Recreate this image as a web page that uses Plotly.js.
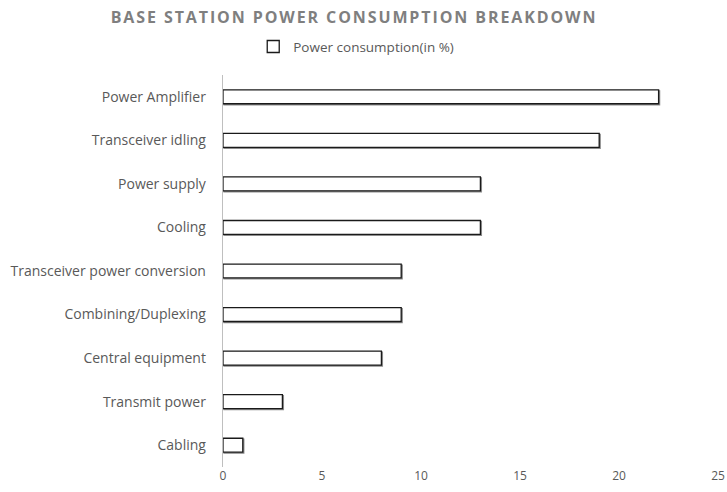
<!DOCTYPE html>
<html>
<head>
<meta charset="utf-8">
<script src="https://cdn.plot.ly/plotly-3.0.1.min.js"></script>
<style>
html,body{margin:0;padding:0;background:#fff;}
#chart{width:727px;height:492px;}
.gtitle{letter-spacing:1.9px;}
.bars path{filter:drop-shadow(1px 1px 0 #8c8c8c);}
</style>
</head>
<body>
<div id="chart"></div>
<script>
const categories = ["Power Amplifier","Transceiver idling","Power supply","Cooling","Transceiver power conversion","Combining/Duplexing","Central equipment","Transmit power","Cabling"];
const values = [22,19,13,13,9,9,8,3,1];
const seriesName = "Power consumption(in %)";
const xTicks = [0,5,10,15,20,25];

const trace = {
  type: 'bar',
  orientation: 'h',
  y: categories,
  x: values,
  name: seriesName,
  marker: {color: '#ffffff', line: {color: '#1a1a1a', width: 1.3}},
  showlegend: true
};

const layout = {
  width: 727, height: 492,
  margin: {l: 223, r: 9, t: 75, b: 25},
  paper_bgcolor: '#ffffff', plot_bgcolor: '#ffffff',
  font: {family: 'Open Sans, sans-serif', color: '#595959'},
  title: {text: 'BASE STATION POWER CONSUMPTION BREAKDOWN', x: 0.487, xref: 'container', y: 0.965, yanchor: 'middle',
          font: {family: 'Open Sans, sans-serif', size: 16, color: '#7f7f7f', weight: 'bold'}},
  showlegend: true,
  legend: {orientation: 'h', xref: 'container', yref: 'container', x: 0.49, xanchor: 'center', y: 0.905, yanchor: 'middle',
           font: {size: 13.5, color: '#595959'}, itemwidth: 30},
  bargap: 0.68,
  xaxis: {range: [0, 25], tickvals: xTicks, ticktext: xTicks.map(String), showgrid: false, zeroline: false, showline: false,
          ticks: '', tickfont: {size: 12, color: '#595959'}, fixedrange: true},
  yaxis: {autorange: 'reversed', type: 'category', showgrid: false, zeroline: false, showline: true, linecolor: '#bfbfbf', linewidth: 1.3,
          ticks: '', ticklabelstandoff: 13, tickfont: {size: 14, color: '#595959'}, fixedrange: true}
};

Plotly.newPlot('chart', [trace], layout, {displayModeBar: false, staticPlot: true});
</script>
</body>
</html>
